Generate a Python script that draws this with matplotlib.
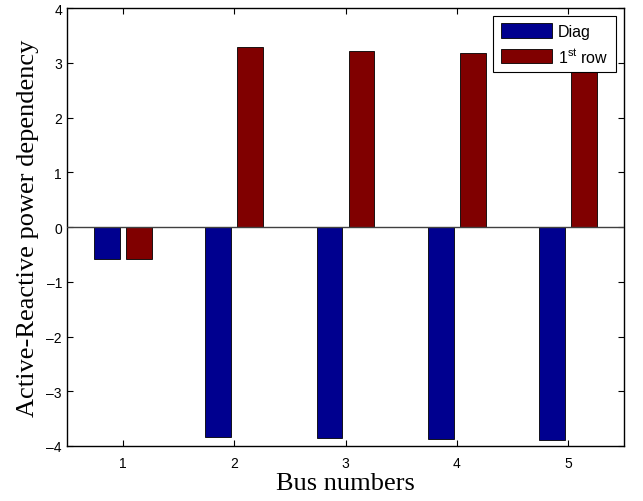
import matplotlib
matplotlib.use("Agg")
import matplotlib.pyplot as plt
import numpy as np

plt.rcParams['mathtext.fontset'] = 'custom'
plt.rcParams['mathtext.rm'] = 'Liberation Sans'
plt.rcParams['mathtext.it'] = 'Liberation Sans'

buses = [1, 2, 3, 4, 5]
diag = [-0.58, -3.84, -3.86, -3.88, -3.89]
first_row = [-0.58, 3.29, 3.22, 3.17, 3.12]
series_labels = ['Diag', r'1$^{\mathrm{st}}$ row']
yticks = [-4, -3, -2, -1, 0, 1, 2, 3, 4]

blue = '#00008F'
red = '#800000'

fig = plt.figure(figsize=(6.43, 5.02), dpi=100)
ax = fig.add_axes([67/643, 55/502, 557/643, 438/502])

x = np.array(buses, dtype=float)
w = 0.231
off = 0.144
ax.bar(x - off, diag, width=w, color=blue, edgecolor='k', linewidth=0.6, label=series_labels[0], zorder=2)
ax.bar(x + off, first_row, width=w, color=red, edgecolor='k', linewidth=0.6, label=series_labels[1], zorder=2)
ax.axhline(0, color='#404040', linewidth=1.0, zorder=3)

ax.set_xlim(0.5, 5.5)
ax.set_ylim(-4, 4)
ax.set_xticks(buses)
ax.set_yticks(yticks)
ax.set_yticklabels(['\u2013%d' % -v if v < 0 else '%d' % v for v in yticks])

for s in ax.spines.values():
    s.set_linewidth(1.0)
ax.tick_params(direction='in', length=4, width=0.8, top=True, right=True,
               labelsize=10, labelfontfamily='Liberation Sans')
ax.tick_params(axis='x', pad=7)
ax.tick_params(axis='y', pad=3.6)

ax.set_xlabel('Bus numbers', fontfamily='Liberation Serif', fontsize=19, labelpad=2)
ax.set_ylabel('Active-Reactive power dependency', fontfamily='Liberation Serif', fontsize=19, labelpad=5)

leg = ax.legend(loc='upper right', prop={'family': 'Liberation Sans', 'size': 11.5},
                fancybox=False, framealpha=1, edgecolor='k', borderaxespad=0.52,
                handlelength=3.2, handleheight=1.05, handletextpad=0.4,
                labelspacing=0.45, borderpad=0.45)
leg.get_frame().set_linewidth(0.8)

fig.savefig('out.png', dpi=100)
